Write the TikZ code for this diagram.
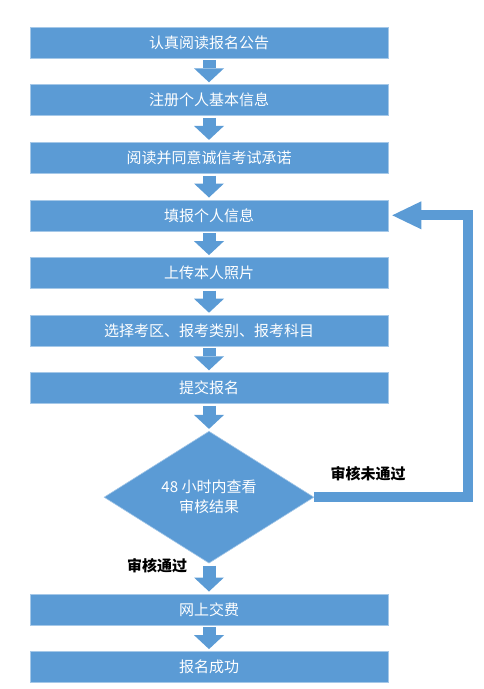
\documentclass[tikz,border=0pt]{standalone}
\usepackage{fontspec}
\setmainfont{Noto Sans CJK SC}
\usetikzlibrary{positioning,shapes.geometric,arrows.meta}

\definecolor{flowblue}{RGB}{91,155,213}

\tikzset{
    stepbox/.style = {rectangle, fill=flowblue, draw=flowblue!55!white, line width=0.6pt,
        minimum width=358pt, minimum height=31pt, inner sep=0pt,
        text=white, font=\fontsize{15}{19}\selectfont},
    checkbox/.style = {diamond, aspect=1.6, fill=flowblue, draw=flowblue!55!white, line width=0.6pt,
        minimum width=210pt, minimum height=132pt, inner sep=0pt, align=center,
        text=white, font=\fontsize{15}{20}\selectfont},
    downarrow/.style = {flowblue, line width=13pt, shorten <=2pt, shorten >=2pt,
        -{Triangle[width=30pt,length=14pt,line width=0pt]}},
    backarrow/.style = {flowblue, line width=10pt, shorten >=4pt,
        -{Triangle[width=28pt,length=29pt,line width=0pt]}},
    remark/.style = {font=\bfseries\fontsize{15}{18}\selectfont}
}

\begin{document}
\begin{tikzpicture}[x=1pt, y=-1pt]
        \useasboundingbox (0,0) rectangle (483,689);
        % main column
        \node[stepbox] (s1) at (209,42.5) {认真阅读报名公告};
        \node[stepbox, below=26pt of s1] (s2) {注册个人基本信息};
        \node[stepbox, below=26pt of s2] (s3) {阅读并同意诚信考试承诺};
        \node[stepbox, below=26pt of s3] (s4) {填报个人信息};
        \node[stepbox, below=26pt of s4] (s5) {上传本人照片};
        \node[stepbox, below=26pt of s5] (s6) {选择考区、报考类别、报考科目};
        \node[stepbox, below=26pt of s6] (s7) {提交报名};
        \node[checkbox, below=27pt of s7] (check) {48 小时内查看\\审核结果};
        \node[stepbox, below=30pt of check] (s8) {网上交费};
        \node[stepbox, below=26pt of s8] (s9) {报名成功};
        % block arrows
        \foreach \a/\b in {s1/s2, s2/s3, s3/s4, s4/s5, s5/s6, s6/s7, s7/check, check/s8, s8/s9}
            \draw[downarrow] (\a.south) -- (\b.north);
        % back to step 4
        \draw[backarrow] (check.east) -- ++(154,0) |- (s4.east);
        \node[remark] (fail) at (368,474) {审核未通过};
        \node[remark] (pass) at (157,566) {审核通过};
    \end{tikzpicture}
\end{document}
